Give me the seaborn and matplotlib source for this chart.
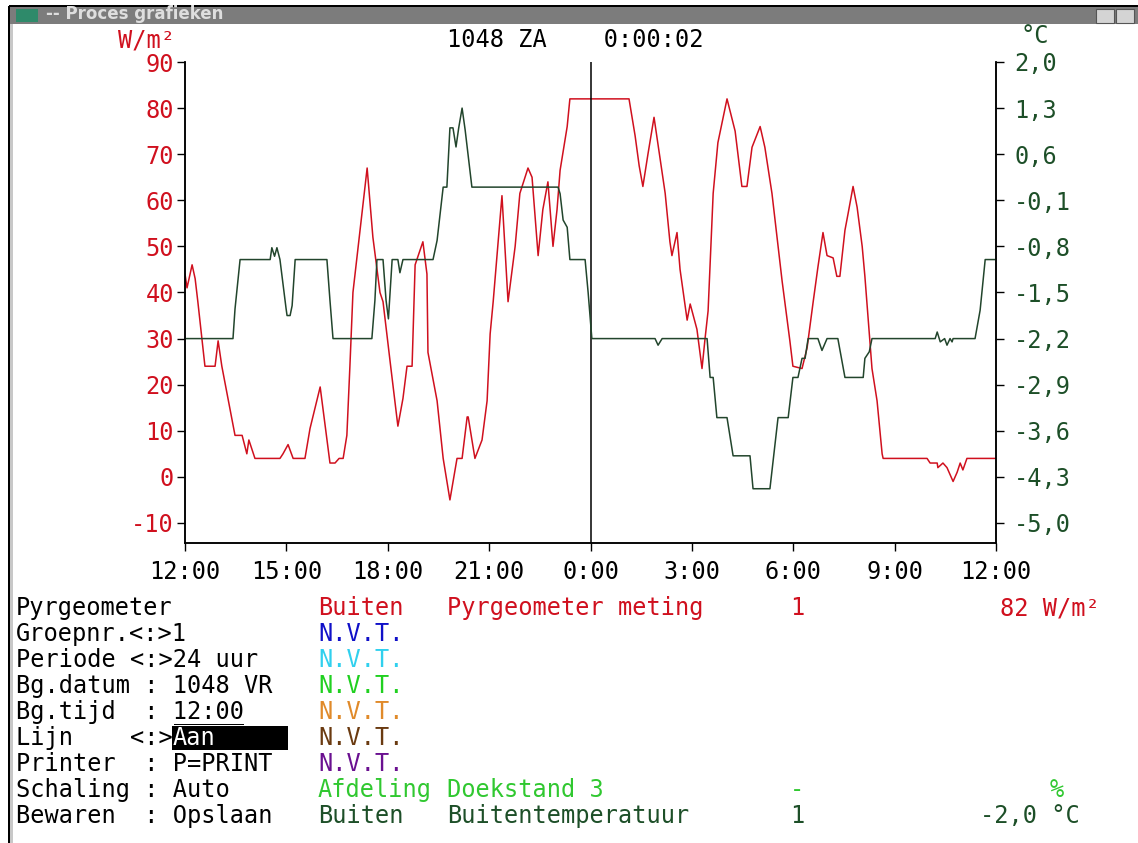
import matplotlib
matplotlib.use("Agg")
import matplotlib.pyplot as plt
import seaborn as sns
import pandas as pd
from matplotlib.patches import Rectangle

# --- data (hours after 12:00 on the x axis) ---
pyr_hours = [0, 0.06, 0.21, 0.30, 0.38, 0.59, 0.89, 0.98, 1.09, 1.48, 1.69, 1.83, 1.89, 2.07,
             2.81, 2.90, 3.05, 3.20, 3.55, 3.70, 4.00, 4.29, 4.44, 4.56, 4.68, 4.79, 4.88, 4.97,
             5.39, 5.56, 5.77, 5.86, 6.07, 6.30, 6.45, 6.57, 6.72, 6.81, 7.04, 7.16, 7.19, 7.46,
             7.64, 7.84, 8.05, 8.20, 8.35, 8.38, 8.58, 8.79, 8.94, 9.03, 9.12, 9.38, 9.56, 9.77,
             9.91, 10.15, 10.27, 10.45, 10.59, 10.74, 10.89, 11.01, 11.10, 11.31, 11.39, 13.14,
             13.32, 13.44, 13.55, 13.70, 13.88, 14.06, 14.21, 14.35, 14.41, 14.56, 14.65, 14.86,
             14.95, 15.15, 15.30, 15.39, 15.48, 15.63, 15.77, 16.04, 16.28, 16.48, 16.63, 16.78,
             17.02, 17.16, 17.37, 17.52, 17.67, 17.90, 17.99, 18.26, 18.41, 18.59, 18.73, 18.88,
             19.00, 19.18, 19.29, 19.38, 19.53, 19.62, 19.77, 19.89, 20.04, 20.12, 20.33, 20.48,
             20.63, 20.66, 21.96, 22.05, 22.26, 22.28, 22.43, 22.55, 22.73, 22.85, 22.94, 23.02,
             23.14, 24.0]
pyr_values = [44, 41, 46, 43, 38, 24, 24, 29.5, 24, 9, 9, 5, 8, 4,
              4, 5, 7, 4, 4, 10.5, 19.5, 3, 3, 4, 4, 9, 24, 40,
              67, 52, 40, 38, 25, 11, 17, 24, 24, 46, 51, 44, 27, 16.5,
              4, -5, 4, 4, 13, 13, 4, 8, 16.5, 31, 38, 61, 38, 50,
              61.5, 67, 65, 48, 58, 64, 50, 58, 66.5, 76, 82, 82,
              74, 67.5, 63, 70, 78, 69, 61.5, 51, 48, 53, 45, 34,
              37.5, 32, 23.5, 30, 36, 61.5, 72.5, 82, 75, 63, 63, 71.5,
              76, 71.5, 61.5, 52, 42.5, 29.5, 24, 23.5, 28, 38, 45.5, 53,
              48, 47.5, 43.5, 43.5, 53.5, 57, 63, 58.5, 50, 43.5, 23.5, 16.5,
              5, 4, 4, 3, 3, 2, 3, 2, -1, 1, 3, 1.5,
              4, 4]

temp_hours = [0, 1.42, 1.48, 1.63, 2.52, 2.57, 2.65, 2.72, 2.81, 2.99, 3.02, 3.11, 3.17, 3.26,
              4.20, 4.29, 4.38, 5.53, 5.62, 5.68, 5.86, 5.95, 6.02, 6.13, 6.30, 6.36, 6.45, 7.34,
              7.46, 7.64, 7.75, 7.84, 7.93, 8.02, 8.10, 8.20, 8.29, 8.49, 11.04, 11.10, 11.19,
              11.31, 11.39, 11.84, 11.93, 12.04, 13.91, 14.00, 14.12, 15.45, 15.54, 15.63, 15.74,
              16.04, 16.22, 16.72, 16.81, 17.31, 17.55, 17.85, 17.99, 18.14, 18.26, 18.35, 18.44,
              18.73, 18.85, 19.00, 19.32, 19.53, 20.07, 20.12, 20.25, 20.33, 22.20, 22.26, 22.35,
              22.48, 22.55, 22.64, 22.70, 22.73, 23.38, 23.53, 23.68, 24.0]
temp_values = [-2.2, -2.2, -1.75, -1.0, -1.0, -0.82, -0.95, -0.82, -1.0, -1.74, -1.85, -1.85, -1.7, -1.0,
               -1.0, -1.62, -2.2, -2.2, -1.62, -1.0, -1.0, -1.62, -1.9, -1.0, -1.0, -1.2, -1.0, -1.0,
               -0.71, 0.1, 0.1, 1.0, 1.0, 0.71, 1.0, 1.3, 0.97, 0.1, 0.1, 0.0, -0.4,
               -0.51, -1.0, -1.0, -1.5, -2.2, -2.2, -2.3, -2.2, -2.2, -2.79, -2.79, -3.4,
               -3.4, -3.98, -3.98, -4.48, -4.48, -3.4, -3.4, -2.79, -2.79, -2.5, -2.5, -2.2,
               -2.2, -2.38, -2.2, -2.2, -2.79, -2.79, -2.5, -2.4, -2.2, -2.2, -2.1, -2.25,
               -2.2, -2.3, -2.2, -2.25, -2.2, -2.2, -1.77, -1.0, -1.0]

hour_ticks = [0, 3, 6, 9, 12, 15, 18, 21, 24]
hour_labels = ["12:00", "15:00", "18:00", "21:00", "0:00", "3:00", "6:00", "9:00", "12:00"]
wm2_ticks = [90, 80, 70, 60, 50, 40, 30, 20, 10, 0, -10]
temp_ticks = [2.0, 1.3, 0.6, -0.1, -0.8, -1.5, -2.2, -2.9, -3.6, -4.3, -5.0]
cursor_hour = 12

menu_lines = ["Pyrgeometer", "Groepnr.<:>1", "Periode <:>24 uur", "Bg.datum : 1048 VR",
              "Bg.tijd  : 12:00", "Lijn    <:>", "Printer  : P=PRINT", "Schaling : Auto",
              "Bewaren  : Opslaan"]
channel_names = ["Buiten", "N.V.T.", "N.V.T.", "N.V.T.", "N.V.T.", "N.V.T.", "N.V.T.",
                 "Afdeling", "Buiten"]
channel_colors = ["#d0101e", "#1010c8", "#30d0ee", "#20d020", "#e08a2a", "#6a3a10", "#6a1090",
                  "#30c830", "#1d4f28"]

RED = "#d0101e"
DKGREEN = "#1d4f28"
LINE_GREEN = "#22452c"

pyr_df = pd.DataFrame({"uur": pyr_hours, "W/m2": pyr_values})
temp_df = pd.DataFrame({"uur": temp_hours, "graden": temp_values})

sns.set_style("white")
plt.rcParams["font.family"] = ["DejaVu Sans Mono", "DejaVu Sans"]
FS = 17

W, H = 1138, 843
def px(x, y):
    return x / W, 1 - y / H

fig = plt.figure(figsize=(W / 100, H / 100), dpi=100)
fig.patch.set_facecolor("white")

ax = fig.add_axes([185 / W, 1 - 543 / H, (996 - 185) / W, (543 - 62) / H])
sns.lineplot(data=pyr_df, x="uur", y="W/m2", ax=ax, color=RED, lw=1.1,
             sort=False, estimator=None)
ax.axvline(cursor_hour, color="black", lw=1.1)
ax.set_xlim(0, 24)
ax.set_ylim(-14.35, 90)
ax.set_xticks(hour_ticks)
ax.set_xticklabels(hour_labels)
ax.set_yticks(wm2_ticks)
ax.set_yticklabels([str(t) for t in wm2_ticks])
ax.set_xlabel("")
ax.set_ylabel("")
ax.tick_params(axis="x", direction="out", length=6, width=1, color="black",
               labelsize=FS, labelcolor="black", pad=6, bottom=True)
ax.tick_params(axis="y", direction="out", length=6, width=1, color="black",
               labelsize=FS, labelcolor=RED, pad=2, left=True)

ax2 = ax.twinx()
sns.lineplot(data=temp_df, x="uur", y="graden", ax=ax2, color=LINE_GREEN, lw=1.1,
             sort=False, estimator=None)
ax2.set_ylim(-5.304, 2.0)
ax2.set_yticks(temp_ticks)
ax2.set_yticklabels([f"{t:.1f}".replace(".", ",") for t in temp_ticks])
ax2.set_ylabel("")
ax2.tick_params(axis="y", direction="out", length=6, width=1, color="black",
                labelsize=FS, labelcolor=DKGREEN, pad=7, right=True)

for a in (ax, ax2):
    a.spines["top"].set_visible(False)
    for s in ("left", "right", "bottom"):
        a.spines[s].set_color("black")
        a.spines[s].set_linewidth(1.1)

# header texts
fig.text(*px(118, 40), "W/m²", color=RED, fontsize=FS, va="center", ha="left")
fig.text(*px(447, 40), "1048 ZA    0:00:02", color="black", fontsize=FS, va="center", ha="left")
fig.text(*px(1020, 36), "°C", color=DKGREEN, fontsize=FS, va="center", ha="left")

# window chrome
fig.patches.append(Rectangle(px(9, 24), (W - 9) / W, 18 / H, transform=fig.transFigure,
                             facecolor="#7c7c7c", edgecolor="none"))
fig.patches.append(Rectangle(px(9, 7), (W - 9) / W, 2 / H, transform=fig.transFigure,
                             facecolor="black", edgecolor="none"))
fig.patches.append(Rectangle(px(8, H), 2 / W, (H - 6) / H, transform=fig.transFigure,
                             facecolor="black", edgecolor="none"))
fig.patches.append(Rectangle(px(10, H), 3 / W, (H - 24) / H, transform=fig.transFigure,
                             facecolor="#c8c8c8", edgecolor="none"))
fig.patches.append(Rectangle(px(16, 22), 22 / W, 13 / H, transform=fig.transFigure,
                             facecolor="#2e8a6a", edgecolor="none"))
fig.patches.append(Rectangle(px(1096, 23), 18 / W, 14 / H, transform=fig.transFigure,
                             facecolor="#d4d4d4", edgecolor="#555555", lw=0.8))
fig.patches.append(Rectangle(px(1116, 23), 18 / W, 14 / H, transform=fig.transFigure,
                             facecolor="#d4d4d4", edgecolor="#555555", lw=0.8))
fig.text(*px(46, 14), "-- Proces grafieken", color="#dedede", fontsize=12,
         fontweight="bold", family=["DejaVu Sans"], va="center", ha="left")

# menu panel
row_y = [608, 634, 660, 686, 712, 738, 764, 790, 816]
for txt, y in zip(menu_lines, row_y):
    fig.text(*px(16, y), txt, color="black", fontsize=FS, va="center", ha="left")
for txt, col, y in zip(channel_names, channel_colors, row_y):
    fig.text(*px(318, y), txt, color=col, fontsize=FS, va="center", ha="left")

# highlighted "Aan" field and underline under the start time
fig.patches.append(Rectangle(px(172, 750), (288 - 172) / W, 24 / H, transform=fig.transFigure,
                             facecolor="black", edgecolor="none"))
fig.text(*px(173, 738), "Aan", color="white", fontsize=FS, va="center", ha="left")
fig.patches.append(Rectangle(px(174, 725), 70 / W, 1.5 / H, transform=fig.transFigure,
                             facecolor="black", edgecolor="none"))

fig.text(*px(447, 608), "Pyrgeometer meting", color=RED, fontsize=FS, va="center", ha="left")
fig.text(*px(790, 608), "1", color=RED, fontsize=FS, va="center", ha="left")
fig.text(*px(1100, 608), "82 W/m²", color=RED, fontsize=FS, va="center", ha="right")
fig.text(*px(447, 790), "Doekstand 3", color="#30c830", fontsize=FS, va="center", ha="left")
fig.text(*px(790, 790), "-", color="#30c830", fontsize=FS, va="center", ha="left")
fig.text(*px(1050, 790), "%", color="#30c830", fontsize=FS, va="center", ha="left")
fig.text(*px(447, 816), "Buitentemperatuur", color=DKGREEN, fontsize=FS, va="center", ha="left")
fig.text(*px(790, 816), "1", color=DKGREEN, fontsize=FS, va="center", ha="left")
fig.text(*px(1080, 816), "-2,0 °C", color=DKGREEN, fontsize=FS, va="center", ha="right")

fig.savefig("out.png", dpi=100)
